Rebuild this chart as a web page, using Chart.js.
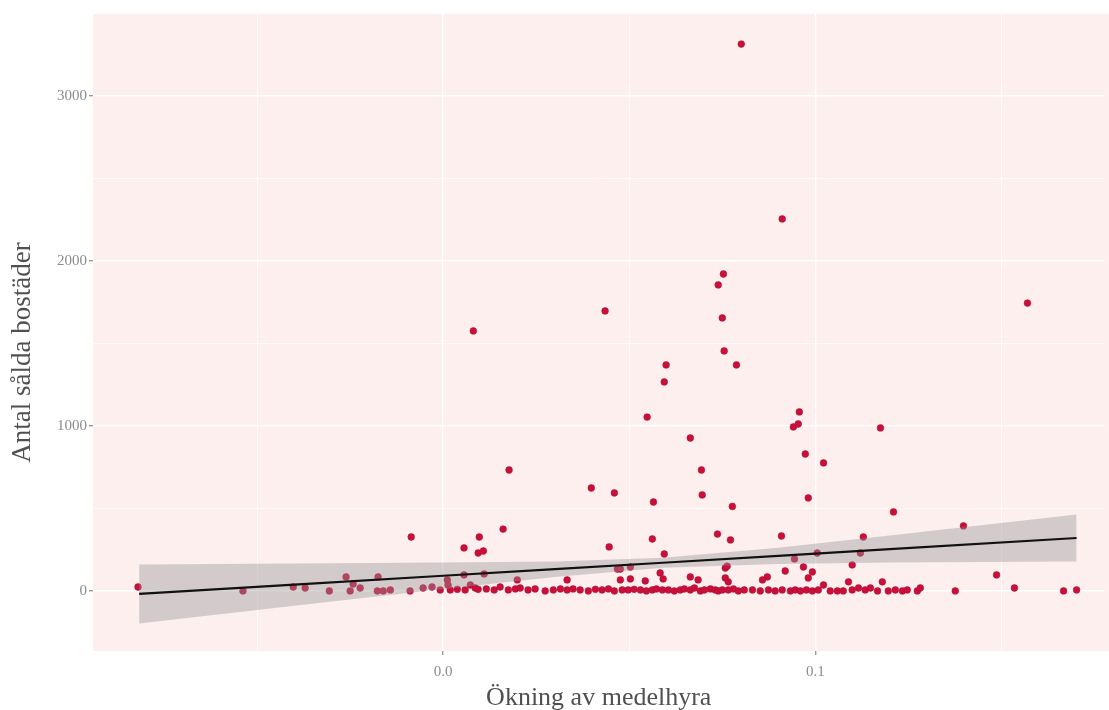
<!DOCTYPE html>
<html>
<head>
<meta charset="utf-8">
<script src="https://cdn.jsdelivr.net/npm/chart.js@4"></script>
<style>
  html, body { margin: 0; padding: 0; background: #fff; }
  #wrap { width: 1109px; height: 710px; }
</style>
</head>
<body>
<div id="wrap"><canvas id="grafico"></canvas></div>
<script>
// punkter: ökning av medelhyra (x) och antal sålda bostäder (y)
const okning = [
  0.0801, 0.0911, 0.0753, 0.0739, 0.0750, 0.0755, 0.0788, 0.1570, 0.0435, 0.0081,
  0.0599, 0.0594, 0.0548, 0.0957, 0.0941, 0.0954, 0.1175, 0.0664, 0.0973, 0.1022,
  0.0177, 0.0694, 0.0398, 0.0460, 0.0565, 0.0696, 0.0777, 0.0981, 0.1210, 0.1398,
  0.0161, -0.0086, 0.0097, 0.0056, 0.0094, 0.0108, 0.1129, 0.1121, 0.1099, 0.0446,
  0.0562, 0.0594, 0.0737, 0.0772, 0.0909, 0.0944, 0.1005, 0.1487,
  // lite över noll
  -0.0261, -0.0242, -0.0175, 0.0011, 0.0056, 0.0110, 0.0199, 0.0333, 0.0468, 0.0476,
  0.0503, 0.0476, 0.0503, 0.0543, 0.0583, 0.0591, 0.0664, 0.0685, 0.0758, 0.0763,
  0.0758, 0.0766, 0.0871, 0.0858, 0.0919, 0.0968, 0.0992, 0.0981, 0.1022, 0.1089,
  0.1180,
  // raden vid noll
  -0.0820, -0.0538, -0.0403, -0.0371, -0.0306, -0.0250, -0.0223, -0.0177, -0.0161, -0.0142,
  -0.0089, -0.0054, -0.0030, -0.0008, 0.0013, 0.0019, 0.0038, 0.0059, 0.0073, 0.0086,
  0.0094, 0.0116, 0.0137, 0.0153, 0.0175, 0.0194, 0.0207, 0.0228, 0.0247, 0.0274,
  0.0296, 0.0315, 0.0333, 0.0349, 0.0368, 0.0390, 0.0409, 0.0427, 0.0444, 0.0460,
  0.0481, 0.0497, 0.0513, 0.0530, 0.0546, 0.0562, 0.0573, 0.0589, 0.0605, 0.0621,
  0.0637, 0.0648, 0.0664, 0.0675, 0.0691, 0.0702, 0.0718, 0.0731, 0.0739, 0.0750,
  0.0766, 0.0780, 0.0793, 0.0809, 0.0831, 0.0852, 0.0874, 0.0892, 0.0911, 0.0933,
  0.0946, 0.0960, 0.0976, 0.0992, 0.1008, 0.1040, 0.1059, 0.1075, 0.1099, 0.1116,
  0.1134, 0.1148, 0.1167, 0.1196, 0.1215, 0.1234, 0.1247, 0.1274, 0.1282, 0.1376,
  0.1535, 0.1667, 0.1702
];
const salda = [
  3315, 2255, 1921, 1855, 1655, 1455, 1370, 1745, 1697, 1576,
  1370, 1267, 1054, 1085, 994, 1012, 988, 927, 830, 776,
  733, 733, 624, 594, 539, 582, 512, 564, 479, 394,
  375, 327, 327, 261, 230, 242, 327, 230, 158, 267,
  315, 224, 345, 309, 333, 194, 230, 97,
  85, 42, 85, 67, 97, 103, 67, 67, 133, 133,
  145, 67, 73, 61, 109, 73, 85, 67, 139, 150,
  79, 55, 85, 67, 121, 145, 115, 79, 36, 55,
  55,
  24, 0, 24, 18, 0, 0, 18, 0, 0, 6,
  0, 18, 24, 6, 36, 6, 10, 6, 36, 18,
  10, 12, 6, 24, 6, 12, 18, 6, 12, 0,
  6, 12, 6, 12, 6, 0, 10, 6, 12, 0,
  6, 6, 10, 6, 0, 6, 12, 6, 6, 0,
  6, 12, 6, 18, 0, 6, 12, 6, 0, 6,
  6, 12, 0, 6, 6, 0, 6, 0, 6, 0,
  6, 0, 6, 0, 6, 0, 0, 0, 6, 18,
  6, 18, 0, 0, 6, 0, 6, 0, 18, 0,
  18, 0, 6
];

// regressionslinje och konfidensband
const bandX = [-0.0817, -0.04, 0.0, 0.03, 0.059, 0.09, 0.12, 0.1702];
const linjeY = [-18, 38, 92, 132, 171, 213, 254, 321];
const bandOvre = [161, 166, 172, 179, 201, 262, 336, 464];
const bandUndre = [-197, -90, 12, 85, 141, 164, 172, 178];

const xTicks = [-0.05, 0.0, 0.05, 0.1, 0.15];
const xEtiketter = { '0': '0.0', '0.1': '0.1' };
const yTicks = [0, 500, 1000, 1500, 2000, 2500, 3000];
const yEtiketter = [0, 1000, 2000, 3000];

const serif = "'Liberation Serif', 'DejaVu Serif', serif";
const yTitel = 'Antal sålda bostäder';

// rosa panel, dras ut till högerkanten
const panelBakgrund = {
  id: 'panelBakgrund',
  beforeDraw(chart) {
    const { ctx, chartArea: a } = chart;
    ctx.save();
    ctx.fillStyle = '#fcefee';
    ctx.fillRect(a.left, a.top, chart.width - a.left, a.bottom - a.top);
    ctx.restore();
  }
};

// y-titeln ritas själv, lite under mitten som i förlagan
const yTitelPlugin = {
  id: 'yTitel',
  afterDraw(chart) {
    const { ctx, chartArea: a } = chart;
    ctx.save();
    ctx.translate(23, (a.top + a.bottom) / 2 + 20);
    ctx.rotate(-Math.PI / 2);
    ctx.fillStyle = '#505050';
    ctx.font = `27px ${serif}`;
    ctx.textAlign = 'center';
    ctx.textBaseline = 'middle';
    ctx.fillText(yTitel, 0, 0);
    ctx.restore();
  }
};

const punkter = okning.map((x, i) => ({ x, y: salda[i] }));
const linje = bandX.map((x, i) => ({ x, y: linjeY[i] }));
const ovre = bandX.map((x, i) => ({ x, y: bandOvre[i] }));
const undre = bandX.map((x, i) => ({ x, y: bandUndre[i] }));

new Chart(document.getElementById('grafico'), {
  type: 'scatter',
  data: {
    datasets: [
      {
        type: 'line',
        data: linje,
        borderColor: '#111',
        borderWidth: 2.2,
        pointRadius: 0,
        fill: false,
        order: 0
      },
      {
        type: 'line',
        data: ovre,
        borderWidth: 0,
        pointRadius: 0,
        fill: '+1',
        backgroundColor: 'rgba(150,150,150,0.40)',
        order: 1
      },
      {
        type: 'line',
        data: undre,
        borderWidth: 0,
        pointRadius: 0,
        fill: false,
        order: 1
      },
      {
        data: punkter,
        backgroundColor: '#c8103a',
        borderColor: '#a80d33',
        borderWidth: 0.5,
        pointRadius: 3.4,
        order: 2
      }
    ]
  },
  options: {
    responsive: true,
    maintainAspectRatio: false,
    animation: false,
    layout: { padding: { top: 14, right: 0, left: 0, bottom: 0 } },
    plugins: {
      legend: { display: false },
      tooltip: { enabled: false }
    },
    scales: {
      x: {
        type: 'linear',
        min: -0.0941,
        max: 0.1777,
        afterBuildTicks: (s) => { s.ticks = xTicks.map(v => ({ value: v })); },
        afterFit: (s) => { s.height = 59; },
        border: { display: false },
        grid: {
          color: '#ffffff',
          lineWidth: (c) => (c.tick && xEtiketter[String(c.tick.value)] ? 1.4 : 0.7),
          tickColor: (c) => (c.tick && xEtiketter[String(c.tick.value)] ? '#999' : 'rgba(0,0,0,0)'),
          tickLength: 4
        },
        ticks: {
          autoSkip: false,
          maxRotation: 0,
          padding: 8,
          color: '#8c8c8c',
          font: { family: serif, size: 15 },
          callback: (v) => xEtiketter[String(v)] || ''
        },
        title: {
          display: true,
          text: 'Ökning av medelhyra',
          color: '#505050',
          font: { family: serif, size: 26 },
          padding: { top: 0, bottom: -4 }
        }
      },
      y: {
        type: 'linear',
        min: -364,
        max: 3497,
        afterBuildTicks: (s) => { s.ticks = yTicks.map(v => ({ value: v })); },
        afterFit: (s) => { s.width = 93; },
        border: { display: false },
        grid: {
          color: '#ffffff',
          lineWidth: (c) => (c.tick && yEtiketter.includes(c.tick.value) ? 1.4 : 0.7),
          tickColor: (c) => (c.tick && yEtiketter.includes(c.tick.value) ? '#999' : 'rgba(0,0,0,0)'),
          tickLength: 4
        },
        ticks: {
          autoSkip: false,
          padding: 2,
          color: '#8c8c8c',
          font: { family: serif, size: 15 },
          callback: (v) => (yEtiketter.includes(v) ? String(v) : '')
        },
        title: { display: false }
      }
    }
  },
  plugins: [panelBakgrund, yTitelPlugin]
});
</script>
</body>
</html>
